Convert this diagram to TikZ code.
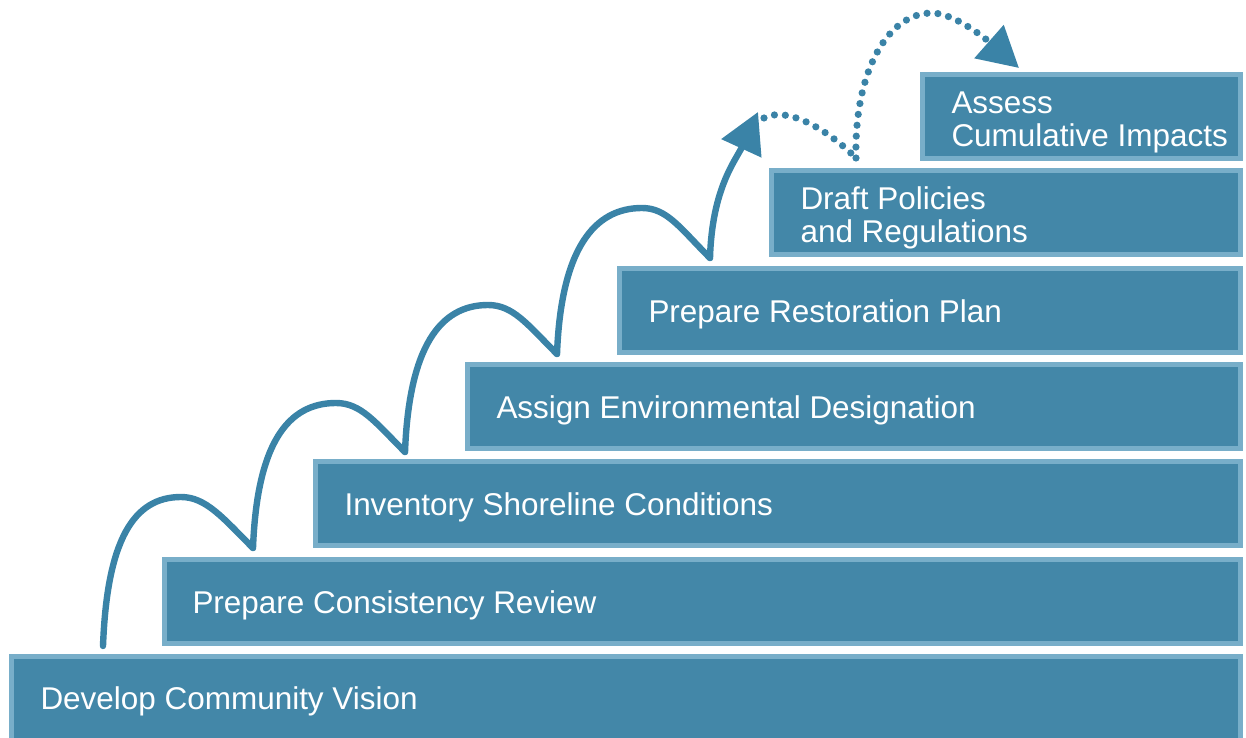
\documentclass[tikz,border=0pt]{standalone}
\usepackage{fontspec}
\setmainfont{Liberation Sans}
\usetikzlibrary{arrows.meta}

\definecolor{barfill}{RGB}{67,135,168}
\definecolor{baredge}{RGB}{120,174,201}
\definecolor{hopline}{RGB}{58,131,167}

\tikzset{every picture/.style={line width=0.75pt}}
\tikzset{
  stepbar/.style={draw=baredge, fill=barfill, line width=3.75pt},
  steplabel/.style={anchor=west, text=white, align=left, inner sep=0pt,
    font=\fontsize{23.6}{24.75}\selectfont},
  hop/.style={draw=hopline, line width=4.8pt, line cap=round},
  hopdots/.style={hop, line width=5.4pt, dash pattern=on 0pt off 8.2pt},
  hophead/.style={-{Triangle[length=30pt,width=32pt]}},
}

\begin{document}
\begin{tikzpicture}[x=0.75pt,y=0.75pt,yscale=-1,xscale=1]
\useasboundingbox (0,0) rectangle (1246,738);

%Shape: Rectangle
\draw [stepbar] (11.5,656.5) rectangle (1240.5,760) ;
%Shape: Rectangle
\draw [stepbar] (164.5,559.5) rectangle (1240.5,643.5) ;
%Shape: Rectangle
\draw [stepbar] (315.5,461.5) rectangle (1240.5,545.5) ;
%Shape: Rectangle
\draw [stepbar] (467.5,364.5) rectangle (1240.5,448.5) ;
%Shape: Rectangle
\draw [stepbar] (619.5,268.5) rectangle (1240.5,352.5) ;
%Shape: Rectangle
\draw [stepbar] (771.5,170.5) rectangle (1240.5,254.5) ;
%Shape: Rectangle
\draw [stepbar] (922.5,74.5) rectangle (1240.5,158.5) ;

% Text Node
\node [steplabel] (vision) at (40,701) {Develop Community Vision};
% Text Node
\node [steplabel] (review) at (192,605) {Prepare Consistency Review};
% Text Node
\node [steplabel] (inventory) at (344,507.5) {Inventory Shoreline Conditions};
% Text Node
\node [steplabel] (designation) at (496,410.5) {Assign Environmental Designation};
% Text Node
\node [steplabel] (restoration) at (648,314) {Prepare Restoration Plan};
% Text Node
\node [steplabel] (policies) at (800,218) {Draft Policies\\and Regulations};
% Text Node
\node [steplabel] (impacts) at (951,122) {Assess\\Cumulative Impacts};

% hop points
\coordinate (c1) at (103,646) ;
\coordinate (c2) at (253,548) ;
\coordinate (c3) at (405,452) ;
\coordinate (c4) at (557,354) ;
\coordinate (c5) at (710,258) ;
\coordinate (p1) at (181,497) ;
\coordinate (p2) at (336,403) ;
\coordinate (p3) at (488,305) ;
\coordinate (p4) at (642,208) ;
\coordinate (t1) at (758,112) ;
\coordinate (d1) at (764,118) ;
\coordinate (c6) at (856,158) ;
\coordinate (p5) at (932,13) ;
\coordinate (t2) at (1019,68) ;

%Curve Lines
\draw [hop] (c1) .. controls +(4,-105) and +(-48,0) .. (p1) .. controls +(25,0) and +(-30,-30) .. (c2) ;
%Curve Lines
\draw [hop] (c2) .. controls +(4,-105) and +(-48,0) .. (p2) .. controls +(25,0) and +(-30,-30) .. (c3) ;
%Curve Lines
\draw [hop] (c3) .. controls +(4,-105) and +(-48,0) .. (p3) .. controls +(25,0) and +(-30,-30) .. (c4) ;
%Curve Lines
\draw [hop] (c4) .. controls +(4,-105) and +(-48,0) .. (p4) .. controls +(25,0) and +(-30,-30) .. (c5) ;
%Curve Lines
\draw [hop, hophead] (c5) .. controls +(2,-70) and +(-22,48) .. (t1) ;

%Curve Lines
\draw [hopdots] (d1) .. controls +(22,-12) and +(-30,-30) .. (c6) ;
%Curve Lines
\draw [hopdots, hophead] (c6) .. controls +(-2,-85) and +(-45,0) .. (p5) .. controls +(25,0) and +(-25,-22) .. (t2) ;

\end{tikzpicture}
\end{document}
